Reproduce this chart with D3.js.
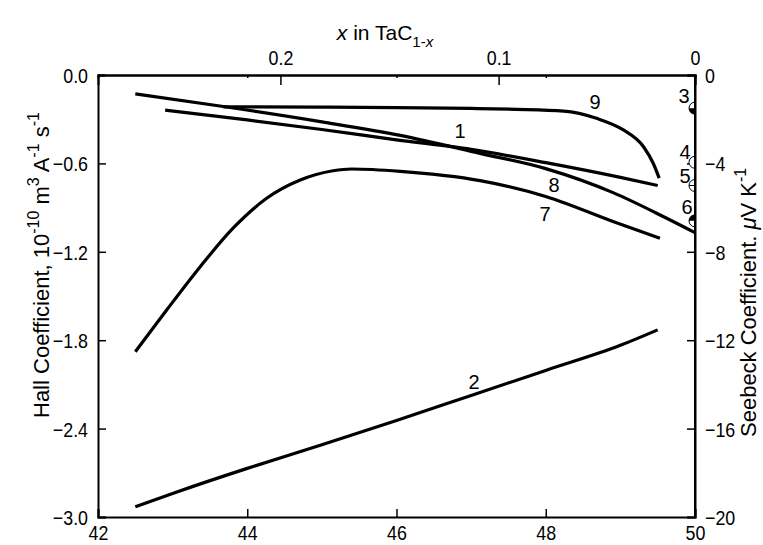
<!DOCTYPE html>
<html>
<head>
<meta charset="utf-8">
<script src="https://cdn.jsdelivr.net/npm/d3@7"></script>
<style>
  html, body { margin: 0; padding: 0; background: #fff; }
  svg { display: block; font-family: "Liberation Sans", Arial, sans-serif; }
</style>
</head>
<body>
<svg id="chart" width="763" height="545"></svg>
<script>
// Hall coefficient (10^-10 m^3 A^-1 s^-1) versus carbon content (at.% C)
const curve1 = [[42.9,-0.238],[44,-0.305],[45,-0.37],[46,-0.44],[47,-0.505],[48,-0.595],[49,-0.695],[49.5,-0.75]];
const curve2 = [[42.5,-2.93],[43,-2.84],[44,-2.67],[45,-2.51],[46,-2.345],[47,-2.175],[48,-2.005],[49,-1.835],[49.5,-1.73]];
const curve7 = [[42.5,-1.878],[42.92,-1.595],[43.37,-1.301],[43.81,-1.04],[44.26,-0.837],[44.71,-0.713],[45.15,-0.65],[45.4,-0.638],[46.05,-0.654],[47.12,-0.717],[48.01,-0.826],[48.91,-0.996],[49.53,-1.108]];
const curve8 = [[42.5,-0.128],[43.68,-0.214],[45,-0.318],[46.05,-0.41],[47.12,-0.532],[48.01,-0.637],[48.91,-0.8],[49.58,-0.962],[50,-1.07]];
const curve9 = [[43.68,-0.216],[45,-0.218],[46,-0.221],[47,-0.227],[47.6,-0.233],[48.24,-0.245],[48.68,-0.294],[49.04,-0.373],[49.31,-0.487],[49.44,-0.599],[49.52,-0.70]];

// Seebeck coefficient points at the stoichiometric end (at.% C, μV/K)
const seebeckPts = [
  { id: "3", x: 50, s: -1.5, fill: "bottom" },
  { id: "4", x: 50, s: -3.95, fill: "none" },
  { id: "5", x: 50, s: -5.0, fill: "bar" },
  { id: "6", x: 50, s: -6.6, fill: "top" }
];

// Axis ticks
const bottomTicks = [42, 44, 46, 48, 50];
const hallTicks = [0, -0.6, -1.2, -1.8, -2.4, -3.0];
const seebeckTicks = [0, -4, -8, -12, -16, -20];
const vacancyTicks = [0.2, 0.1, 0];

const svg = d3.select("#chart");
const L = 98, R = 695, T = 75, B = 517;

const x = d3.scaleLinear().domain([42, 50]).range([L, R]);
const y = d3.scaleLinear().domain([0, -3]).range([T, B]);
const yS = d3.scaleLinear().domain([0, -20]).range([T, B]);
// carbon content of TaC(1-x) in at.%
const atPct = v => 100 * (1 - v) / (2 - v);

const tickFont = 21;
const squeeze = 0.85; // narrow numerals

// axes
const gB = svg.append("g").attr("transform", `translate(0,${B})`)
  .call(d3.axisBottom(x).tickValues(bottomTicks).tickFormat(d3.format("d")).tickSize(-8).tickPadding(23));
const gL = svg.append("g").attr("transform", `translate(${L},0)`)
  .call(d3.axisLeft(y).tickValues(hallTicks).tickFormat(d3.format(".1f")).tickSize(-8).tickPadding(10 / squeeze));
const gR = svg.append("g").attr("transform", `translate(${R},0)`)
  .call(d3.axisRight(yS).tickValues(seebeckTicks).tickFormat(d3.format("d")).tickSize(-8).tickPadding(10 / squeeze));
const gT = svg.append("g").attr("transform", `translate(0,${T})`)
  .call(d3.axisTop(x).tickValues(vacancyTicks.map(atPct)).tickFormat((d, i) => d3.format("")(vacancyTicks[i])).tickSize(-10).tickPadding(10));
// short ticks on the top edge at the bottom-axis positions
svg.append("g").attr("transform", `translate(0,${T})`)
  .call(d3.axisTop(x).tickValues([44, 46, 48]).tickFormat("").tickSize(-3));

svg.selectAll(".domain").attr("stroke", "#000").attr("stroke-width", 2);
svg.selectAll(".tick line").attr("stroke", "#000").attr("stroke-width", 1.5);
svg.selectAll(".tick text").attr("font-size", tickFont).attr("fill", "#000")
  .attr("font-family", "'Liberation Sans', Arial, sans-serif")
  .attr("transform", `scale(${squeeze},1)`);
gT.selectAll(".tick text").attr("dy", "0");
gB.selectAll(".tick text").attr("dy", "0");
gL.selectAll(".tick text").attr("dy", "0.36em");
gR.selectAll(".tick text").attr("dy", "0.36em");

// curves
const line = d3.line().x(d => x(d[0])).y(d => y(d[1])).curve(d3.curveMonotoneX);
const curves = [curve1, curve2, curve7, curve8, curve9];
svg.append("g").selectAll("path").data(curves).join("path")
  .attr("d", line).attr("fill", "none").attr("stroke", "#000")
  .attr("stroke-width", 3.2).attr("stroke-linecap", "butt");

// Seebeck markers, clipped at the right frame
svg.append("clipPath").attr("id", "plotClip")
  .append("rect").attr("x", L).attr("y", T - 10).attr("width", R - L).attr("height", B - T + 20);
const r = 6;
const mk = svg.append("g").attr("clip-path", "url(#plotClip)");
seebeckPts.forEach(p => {
  const cx = x(p.x), cy = yS(p.s);
  const g = mk.append("g");
  g.append("circle").attr("cx", cx).attr("cy", cy).attr("r", r)
    .attr("fill", "#fff").attr("stroke", "#000").attr("stroke-width", 1);
  if (p.fill === "bottom" || p.fill === "top") {
    const sweep = p.fill === "bottom" ? 0 : 1;
    g.append("path")
      .attr("d", `M${cx - r},${cy} A${r},${r} 0 0 ${sweep} ${cx + r},${cy} Z`)
      .attr("fill", "#000");
  }
  if (p.fill === "bar") {
    g.append("line").attr("x1", cx - r).attr("x2", cx + r).attr("y1", cy).attr("y2", cy)
      .attr("stroke", "#000").attr("stroke-width", 1);
  }
});
// redraw right frame over markers
svg.append("line").attr("x1", R).attr("x2", R).attr("y1", T).attr("y2", B)
  .attr("stroke", "#000").attr("stroke-width", 2);

// curve labels
const labels = [
  { t: "1", x: 460, y: 138 },
  { t: "9", x: 595, y: 109 },
  { t: "8", x: 554, y: 192 },
  { t: "7", x: 545, y: 221 },
  { t: "2", x: 474, y: 389 },
  { t: "3", x: 684, y: 103 },
  { t: "4", x: 685, y: 159 },
  { t: "5", x: 685, y: 183 },
  { t: "6", x: 687, y: 214 }
];
svg.append("g").selectAll("text").data(labels).join("text")
  .attr("x", d => d.x).attr("y", d => d.y).attr("text-anchor", "middle")
  .attr("font-size", 20).text(d => d.t);

// axis titles
const topTitle = svg.append("text").attr("x", 385).attr("y", 40).attr("text-anchor", "middle").attr("font-size", 21);
topTitle.append("tspan").attr("font-style", "italic").text("x");
topTitle.append("tspan").text(" in TaC");
topTitle.append("tspan").attr("font-size", 15).attr("dy", 7).text("1-");
topTitle.append("tspan").attr("font-size", 15).attr("font-style", "italic").text("x");

const leftTitle = svg.append("text").attr("transform", `translate(49,418) rotate(-90)`)
  .attr("text-anchor", "start").attr("font-size", 22);
leftTitle.append("tspan").text("Hall Coefficient, 10");
leftTitle.append("tspan").attr("font-size", 16).attr("dy", -10).text("-10");
leftTitle.append("tspan").attr("dy", 10).text(" m");
leftTitle.append("tspan").attr("font-size", 16).attr("dy", -10).text("3");
leftTitle.append("tspan").attr("dy", 10).text(" A");
leftTitle.append("tspan").attr("font-size", 16).attr("dy", -10).text("-1");
leftTitle.append("tspan").attr("dy", 10).text(" s");
leftTitle.append("tspan").attr("font-size", 16).attr("dy", -10).text("-1");

const rightTitle = svg.append("text").attr("transform", `translate(756,437) rotate(-90)`)
  .attr("text-anchor", "start").attr("font-size", 22);
rightTitle.append("tspan").text("Seebeck Coefficient. ");
rightTitle.append("tspan").attr("font-style", "italic").text("μ");
rightTitle.append("tspan").text("V K");
rightTitle.append("tspan").attr("font-size", 16).attr("dy", -10).text("-1");
</script>
</body>
</html>
